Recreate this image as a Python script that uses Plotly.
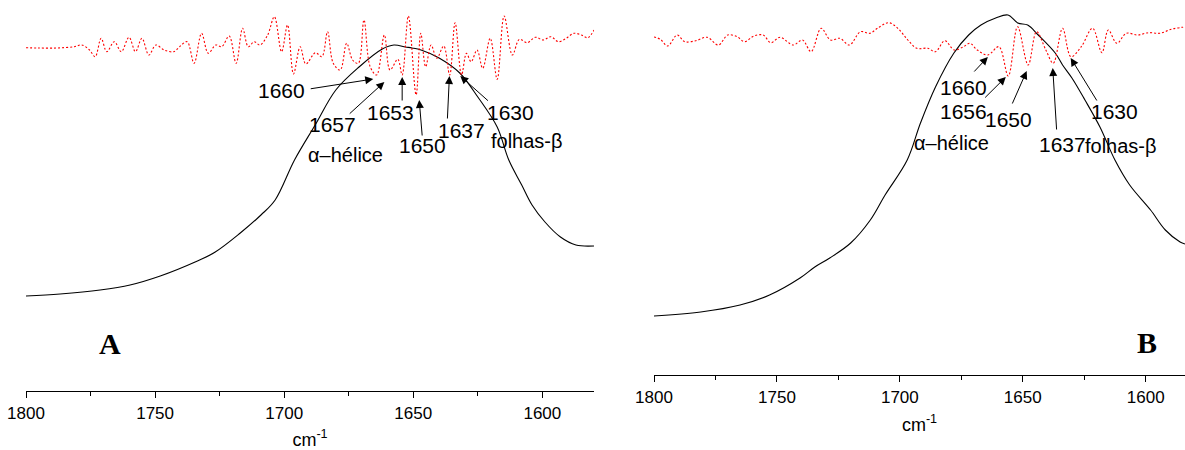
import plotly.graph_objects as go

# ---------------- Panel A data ----------------
wn_abs_A = [1800, 1786.8, 1771.3, 1759.7, 1748, 1734.5, 1726.7, 1717, 1709, 1703.5, 1696, 1688,
            1680, 1671, 1662, 1657.5, 1653, 1650.5, 1647, 1640, 1632, 1625, 1617.5, 1613, 1608,
            1604, 1599, 1593, 1587, 1580]
abs_A = [0.095, 0.097, 0.101, 0.106, 0.115, 0.129, 0.139, 0.158, 0.176, 0.191, 0.231, 0.266,
         0.301, 0.324, 0.342, 0.346, 0.344, 0.343, 0.341, 0.333, 0.318, 0.294, 0.264, 0.231, 0.206,
         0.186, 0.169, 0.154, 0.146, 0.145]

wn_d2_A = [1800, 1795.4, 1788, 1781.3, 1778.4, 1775.4, 1773.2, 1770.9, 1768.7, 1765.8, 1763.1, 1760.1,
           1757.6, 1755.1, 1752.4, 1749.7, 1746.5, 1742.8, 1740.5, 1737.6, 1734.9, 1732, 1729.4, 1726.5,
           1724.2, 1721.3, 1718.6, 1716.1, 1713.9, 1711.6, 1709.4, 1706.4, 1703.8, 1701, 1698.7, 1696.4,
           1693.8, 1691.6, 1687.9, 1685.4, 1683.2, 1681, 1678.3, 1675.8, 1673.5, 1671.3, 1669.1, 1666.7,
           1664.2, 1661.2, 1659, 1656, 1654.3, 1651.9, 1648.9, 1647.1, 1645.2, 1643.1, 1640.9, 1638.2,
           1635.9, 1633.8, 1631.3, 1629.4, 1627.6, 1625.3, 1623.1, 1620.2, 1617.5, 1614.8, 1611.6, 1608.9,
           1605.9, 1602.7, 1599.7, 1596.7, 1593.8, 1590.8, 1587.8, 1584.9, 1582.4, 1580]
d2_A = [0.3, 0, 0, 1.3, 3, -2, -8.7, 9.7, -3.7, 6.3, -3.7, 10.7,
        -3.7, 9.7, -7, 3, -2, -3.7, 1.3, 6.3, -15.3, 14.7, -5.3, 3,
        1.3, 12, -15.3, 19.7, 1.3, 6.3, 3, 13, 31.3, -3.7, 23, -26,
        1.3, -16, -4.7, -8.7, 16.3, -15.3, -22, 4.7, -12, -15.3, 28, -18.7,
        -27, 13, -22, -11.3, -27, 32, -47, 14.7, -18.7, 3, -10.3, 2,
        -27, 25.3, -27, -5.3, -13.7, -2, -20.3, 9.7, -31.3, 32, -7, 8.7,
        5.3, 10.7, 8, 11.3, 6.3, 9.7, 14.7, 13, 10.3, 18]

# ---------------- Panel B data ----------------
wn_abs_B = [1800, 1781, 1765, 1753, 1740.6, 1734.6, 1728.5, 1720, 1712, 1706, 1697, 1691.6, 1685.5,
            1678, 1672, 1667, 1661, 1656, 1652, 1648, 1643.7, 1636.8, 1633.8, 1630, 1624.7, 1618.6,
            1612.5, 1606.5, 1598, 1592, 1586, 1584]
abs_B = [0.059, 0.063, 0.070, 0.080, 0.097, 0.108, 0.117, 0.132, 0.155, 0.180, 0.215, 0.252, 0.288,
         0.322, 0.340, 0.350, 0.357, 0.360, 0.352, 0.350, 0.340, 0.322, 0.310, 0.297, 0.275, 0.248,
         0.215, 0.190, 0.165, 0.145, 0.133, 0.131]

wn_d2_B = [1800, 1797.4, 1794.4, 1790.6, 1787.5, 1783, 1778.4, 1773.8, 1770, 1766.2, 1763.2, 1759.4,
           1755.6, 1752.5, 1748.7, 1743.4, 1739.6, 1736.1, 1732, 1728.2, 1724.4, 1720.5, 1716, 1712.2,
           1709.1, 1704.6, 1700.8, 1697, 1693.1, 1688.6, 1685.5, 1681.7, 1677.9, 1674.1, 1671.5, 1668.5,
           1664.2, 1659.7, 1655.9, 1652.1, 1647.8, 1644.4, 1640.6, 1637.6, 1633.8, 1630.4, 1626.2, 1621.6,
           1617.8, 1615.2, 1611.7, 1607.9, 1603.3, 1598.8, 1594.2, 1589.6, 1585.1, 1584]
d2_B = [0, -2.3, -9, 2, -4.7, -3.7, -0.3, -8, 2, 0.3, -4.7, 1,
        2, -5.7, -0.3, -8, -3, -14.7, 8.7, -3, -1.3, -8, 5.3, 3.7,
        8.7, 14.3, 8.7, -2.3, -11.3, -11.3, -14.7, -3.7, -13, -9.7, -6.3, -13,
        -18, -9.7, -39, 10.3, -28, 5.3, -13, -26.3, 8.7, -19.7, -9.7, 8.7,
        -15.7, 7, -6.3, 3.7, 2, 4.3, 3.7, 7.7, 9.7, 9.9]

tick_vals = [1800, 1750, 1700, 1650, 1600]
tick_text = ["1800", "1750", "1700", "1650", "1600"]

# display offsets of the second-derivative traces (stacking)
OFF_A = 0.343
OFF_B = 0.338

# band labels: (text, label wn, label y, arrow tail wn, tail y, head wn, head y)
bands_A = [
    ("1660", 1701.2, 0.301, 1690.3, 0.302, 1665.5, 0.312),
    ("1657", 1681.4, 0.267, 1675.2, 0.276, 1661.2, 0.309),
    ("1653", 1658.9, 0.279, 1654.3, 0.289, 1654.3, 0.314),
    ("1650", 1646.5, 0.246, 1646.5, 0.254, 1647.7, 0.291),
    ("1637", 1631.4, 0.261, 1636.8, 0.271, 1636.0, 0.315),
    ("1630", 1612.4, 0.279, 1620.5, 0.289, 1631.8, 0.315),
]
bands_B = [
    ("1660", 1674.0, 0.288, 1670.3, 0.302, 1664.2, 0.318),
    ("1656", 1674.0, 0.264, 1665.9, 0.276, 1656.9, 0.298),
    ("1650", 1655.9, 0.256, 1654.5, 0.270, 1648.4, 0.304),
    ("1637", 1633.7, 0.231, 1636.2, 0.244, 1637.8, 0.307),
    ("1630", 1612.6, 0.264, 1619.5, 0.273, 1630.5, 0.317),
]

SANS = "Liberation Sans, Arial, sans-serif"
SERIF = "Liberation Serif, Times New Roman, serif"

fig = go.Figure()
fig.add_trace(go.Scatter(x=wn_abs_A, y=abs_A, mode="lines", line=dict(color="black", width=1.1),
                         line_shape="spline", xaxis="x", yaxis="y", showlegend=False))
fig.add_trace(go.Scatter(x=wn_d2_A, y=[OFF_A + v / 1000 for v in d2_A], mode="lines",
                         line=dict(color="red", width=1.1, dash="2px,2px"), line_shape="spline",
                         xaxis="x", yaxis="y", showlegend=False))
fig.add_trace(go.Scatter(x=wn_abs_B, y=abs_B, mode="lines", line=dict(color="black", width=1.1),
                         line_shape="spline", xaxis="x2", yaxis="y2", showlegend=False))
fig.add_trace(go.Scatter(x=wn_d2_B, y=[OFF_B + v / 1000 for v in d2_B], mode="lines",
                         line=dict(color="red", width=1.1, dash="2px,2px"), line_shape="spline",
                         xaxis="x2", yaxis="y2", showlegend=False))

annotations = []
def add_bands(bands, xr, yr):
    for txt, lx, ly, tx, ty, hx, hy in bands:
        annotations.append(dict(x=hx, y=hy, ax=tx, ay=ty, xref=xr, yref=yr, axref=xr, ayref=yr,
                                text="", showarrow=True, arrowhead=2, arrowsize=1.6,
                                arrowwidth=1, arrowcolor="black"))
        annotations.append(dict(x=lx, y=ly, xref=xr, yref=yr, text=txt, showarrow=False,
                                font=dict(family=SANS, size=21, color="black")))
add_bands(bands_A, "x", "y")
add_bands(bands_B, "x2", "y2")

for xr, yr, x, y, t in [("x", "y", 1676.4, 0.236, "α–hélice"), ("x", "y", 1605.8, 0.250, "folhas-β"),
                        ("x2", "y2", 1678.9, 0.232, "α–hélice"), ("x2", "y2", 1610.2, 0.229, "folhas-β")]:
    annotations.append(dict(x=x, y=y, xref=xr, yref=yr, text=t, showarrow=False,
                            font=dict(family=SANS, size=20, color="black")))

annotations.append(dict(x=1767.4, y=0.048, xref="x", yref="y", text="<b>A</b>", showarrow=False,
                        font=dict(family=SERIF, size=30, color="black")))
annotations.append(dict(x=1599.6, y=0.033, xref="x2", yref="y2", text="<b>B</b>", showarrow=False,
                        font=dict(family=SERIF, size=30, color="black")))

xcommon = dict(showline=True, linecolor="black", linewidth=1.3, ticks="outside", ticklen=6,
               tickwidth=1.2, tickcolor="black", tickvals=tick_vals, ticktext=tick_text,
               tickfont=dict(family=SANS, size=17, color="black"), showgrid=False, zeroline=False,
               minor=dict(dtick=25, tick0=1800, ticks="outside", ticklen=4, tickwidth=1.2,
                          tickcolor="black", showgrid=False),
               title=dict(text="cm<sup>-1</sup>", font=dict(family=SANS, size=18, color="black"),
                          standoff=12),
               automargin=False)

fig.update_layout(
    width=1185, height=450, margin=dict(l=0, r=0, t=0, b=0),
    paper_bgcolor="white", plot_bgcolor="white", showlegend=False,
    xaxis=dict(xcommon, domain=[26 / 1185, 594 / 1185], range=[1800, 1580], anchor="y"),
    xaxis2=dict(xcommon, domain=[654 / 1185, 1.0], range=[1800, 1584], anchor="y2"),
    yaxis=dict(domain=[59 / 450, 1.0], range=[0, 0.391], visible=False, anchor="x"),
    yaxis2=dict(domain=[75 / 450, 1.0], range=[0, 0.375], visible=False, anchor="x2"),
    annotations=annotations,
)

fig.write_html("out.html")
